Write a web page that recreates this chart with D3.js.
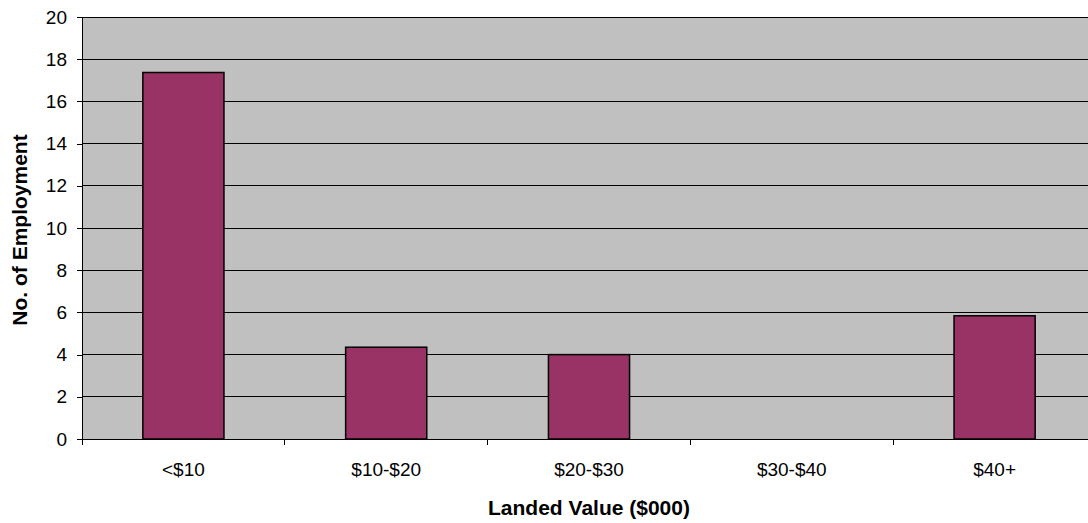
<!DOCTYPE html>
<html>
<head>
<meta charset="utf-8">
<script src="https://cdn.jsdelivr.net/npm/d3@7"></script>
<style>
body { margin: 0; background: #fff; overflow: hidden; }
svg { display: block; font-family: "Liberation Sans", Arial, sans-serif; }
</style>
</head>
<body>
<svg id="chart" width="1088" height="523"></svg>
<script>
var categories = ["<$10", "$10-$20", "$20-$30", "$30-$40", "$40+"];
var values = [17.37, 4.35, 4.0, 0, 5.84];
var yTicks = [0, 2, 4, 6, 8, 10, 12, 14, 16, 18, 20];

// plot area runs a little past the right edge, as in the original
var margin = {top: 17, right: -8, bottom: 84, left: 82},
width = 1088 - margin.left - margin.right,
height = 523 - margin.top - margin.bottom;

var svg = d3.select("#chart")
.append("g")
.attr("transform", "translate(" + margin.left + "," + margin.top + ")");

var x = d3.scaleBand()
.domain(categories)
.range([0, width])
.paddingInner(0.6)
.paddingOuter(0.3);

var y = d3.scaleLinear()
.domain([0, 20])
.range([height, 0]);

// plot background
svg.append("rect")
.attr("width", width)
.attr("height", height)
.attr("fill", "#c0c0c0");

// gridlines
svg.selectAll(".grid")
.data(yTicks.slice(1))
.enter().append("line")
.attr("x1", 0)
.attr("x2", width)
.attr("y1", function(d) { return y(d); })
.attr("y2", function(d) { return y(d); })
.attr("stroke", "#000")
.attr("stroke-width", 1)
.attr("shape-rendering", "crispEdges");

// bars
svg.selectAll(".bar")
.data(values)
.enter().append("rect")
.attr("x", function(d, i) { return x(categories[i]); })
.attr("y", function(d) { return y(d); })
.attr("width", x.bandwidth())
.attr("height", function(d) { return height - y(d); })
.attr("fill", "#993366")
.attr("stroke", function(d) { return d > 0 ? "#000" : "none"; })
.attr("stroke-width", 1.5);

// y axis
svg.append("g")
.attr("class", "axis")
.call(d3.axisLeft(y).tickValues(yTicks).tickSize(5).tickPadding(10))
.call(function(g) {
  g.select(".domain").attr("stroke", "#000").attr("shape-rendering", "crispEdges");
  g.selectAll(".tick line").attr("stroke", "#000").attr("shape-rendering", "crispEdges");
  g.selectAll("text").attr("font-size", 19).attr("fill", "#000")
    .attr("font-family", "Liberation Sans, Arial, sans-serif");
});

// x axis: ticks between categories
var step = x.step();
var bounds = d3.range(categories.length).map(function(i) { return i * step; });
var xAxis = svg.append("g")
.attr("transform", "translate(0," + height + ")");

xAxis.append("line")
.attr("x1", 0).attr("x2", width)
.attr("stroke", "#000")
.attr("shape-rendering", "crispEdges");

xAxis.selectAll(".xt")
.data(bounds)
.enter().append("line")
.attr("x1", function(d) { return d; })
.attr("x2", function(d) { return d; })
.attr("y1", 0).attr("y2", 6)
.attr("stroke", "#000")
.attr("shape-rendering", "crispEdges");

xAxis.selectAll(".xl")
.data(categories)
.enter().append("text")
.attr("x", function(d) { return x(d) + x.bandwidth() / 2; })
.attr("y", 37)
.attr("text-anchor", "middle")
.attr("font-size", 19)
.text(function(d) { return d; });

// axis titles
svg.append("text")
.attr("x", width / 2)
.attr("y", height + 76)
.attr("text-anchor", "middle")
.attr("font-size", 21)
.attr("font-weight", "bold")
.text("Landed Value ($000)");

svg.append("text")
.attr("transform", "translate(" + (-55) + "," + (height / 2 + 2) + ") rotate(-90)")
.attr("text-anchor", "middle")
.attr("font-size", 21)
.attr("font-weight", "bold")
.text("No. of Employment");
</script>
</body>
</html>
